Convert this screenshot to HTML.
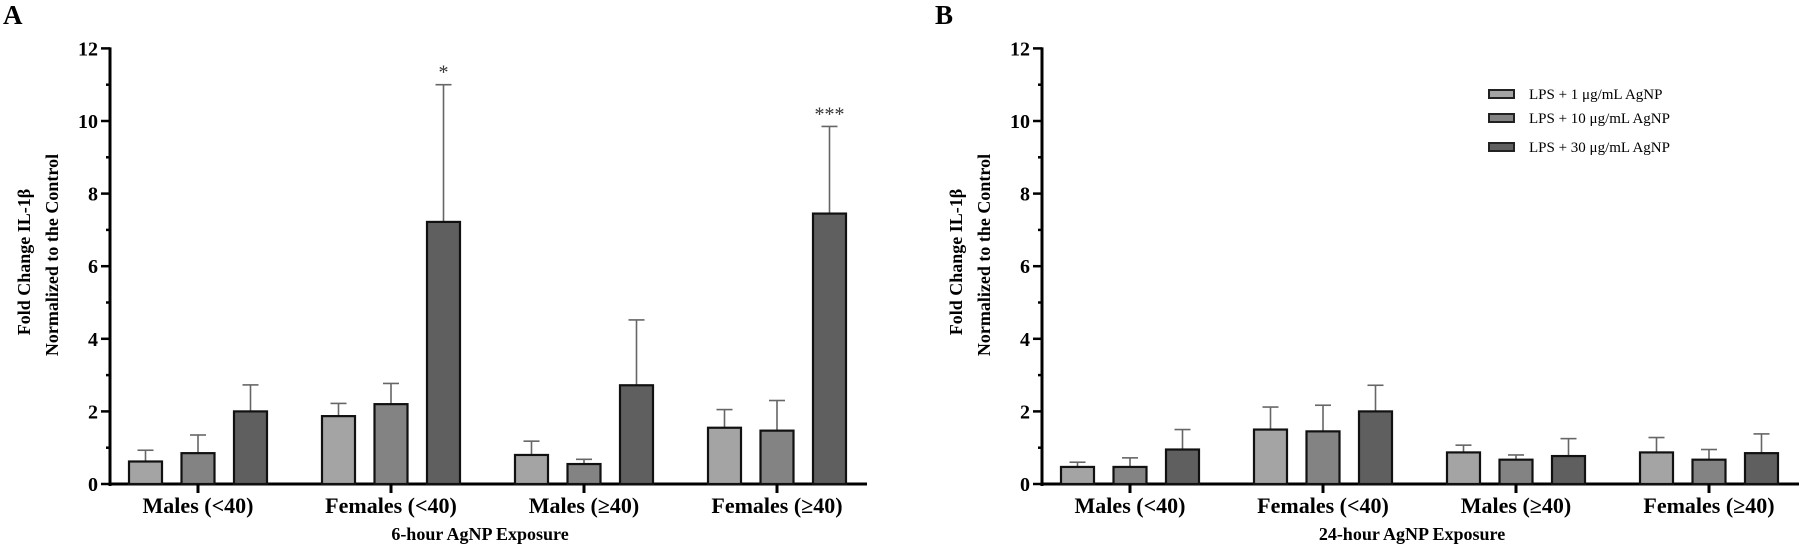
<!DOCTYPE html>
<html><head><meta charset="utf-8"><style>
html,body{margin:0;padding:0;background:#fff}
svg{display:block}
text{font-family:"Liberation Serif",serif}
.b{font-weight:bold}
</style></head><body>
<svg id="s" width="1800" height="550" xmlns="http://www.w3.org/2000/svg"></svg>
<script>
const s=document.getElementById('s');let h='';
const Y0=484,U=36.3;const y=v=>Y0-v*U;
const cols=['#a4a4a4','#838383','#5f5f5f'];
function panel(ax,data,title,letter,stars){
  const xe=ax+757;
  h+=`<text x="${ax-107}" y="24" class="b" font-size="27">${letter}</text>`;
  h+=`<line x1="${ax}" y1="${y(12)-1}" x2="${ax}" y2="${Y0+2}" stroke="#000" stroke-width="3"/>`;
  for(let v=0;v<=12;v++){
    const len=v%2==0?9:4;
    h+=`<line x1="${ax-len}" y1="${y(v)}" x2="${ax}" y2="${y(v)}" stroke="#000" stroke-width="2.5"/>`;
    if(v%2==0)h+=`<text x="${ax-12}" y="${y(v)+7}" text-anchor="end" class="b" font-size="20">${v}</text>`;
  }
  h+=`<line x1="${ax}" y1="${Y0}" x2="${xe}" y2="${Y0}" stroke="#000" stroke-width="3"/>`;
  const labs=['Males (&lt;40)','Females (&lt;40)','Males (≥40)','Females (≥40)'];
  for(let g=0;g<4;g++){
    const x0=ax+19+g*193;
    data[g].forEach((d,i)=>{
      const bx=x0+i*52.5,w=33,cx=bx+w/2;
      h+=`<line x1="${cx}" y1="${y(d[1])}" x2="${cx}" y2="${y(d[0])}" stroke="#666" stroke-width="1.6"/>`;
      h+=`<line x1="${cx-8}" y1="${y(d[1])}" x2="${cx+8}" y2="${y(d[1])}" stroke="#666" stroke-width="1.6"/>`;
      h+=`<rect x="${bx}" y="${y(d[0])}" width="${w}" height="${d[0]*U}" fill="${cols[i]}" stroke="#111" stroke-width="2.2"/>`;
    });
    const tc=x0+69;
    h+=`<line x1="${tc}" y1="${Y0}" x2="${tc}" y2="${Y0+9}" stroke="#000" stroke-width="3"/>`;
    h+=`<text x="${tc}" y="513" text-anchor="middle" class="b" font-size="22">${labs[g]}</text>`;
  }
  h+=`<text x="${ax+370}" y="540" text-anchor="middle" class="b" font-size="18">${title}</text>`;
  h+=`<text transform="translate(${ax-80},262) rotate(-90)" text-anchor="middle" class="b" font-size="18">Fold Change IL-1β</text>`;
  h+=`<text transform="translate(${ax-52},255) rotate(-90)" text-anchor="middle" class="b" font-size="18">Normalized to the Control</text>`;
  stars.forEach(st=>{h+=`<text x="${st[0]}" y="${y(st[1])-6}" text-anchor="middle" font-size="20" fill="#333">${st[2]}</text>`;});
}
panel(110,[[[0.62,0.93],[0.85,1.35],[2.0,2.73]],[[1.87,2.22],[2.2,2.77],[7.22,11.0]],[[0.8,1.18],[0.55,0.68],[2.72,4.52]],[[1.55,2.05],[1.47,2.3],[7.45,9.85]]],'6-hour AgNP Exposure','A',[[110+19+193+105+16.5,11.0,'*'],[110+19+579+105+16.5,9.85,'***']]);
panel(1042,[[[0.47,0.6],[0.47,0.72],[0.95,1.5]],[[1.5,2.12],[1.45,2.17],[2.0,2.72]],[[0.87,1.07],[0.67,0.8],[0.77,1.25]],[[0.87,1.28],[0.67,0.95],[0.85,1.38]]],'24-hour AgNP Exposure','B',[]);
const leg=[['LPS + 1 μg/mL AgNP',90],['LPS + 10 μg/mL AgNP',114],['LPS + 30 μg/mL AgNP',143]];
leg.forEach((l,i)=>{
  h+=`<rect x="${1489}" y="${l[1]}" width="25" height="8" fill="${cols[i]}" stroke="#222" stroke-width="2"/>`;
  h+=`<text x="1529" y="${l[1]+9}" font-size="15">${l[0]}</text>`;
});
s.innerHTML=h;
</script>
</body></html>
